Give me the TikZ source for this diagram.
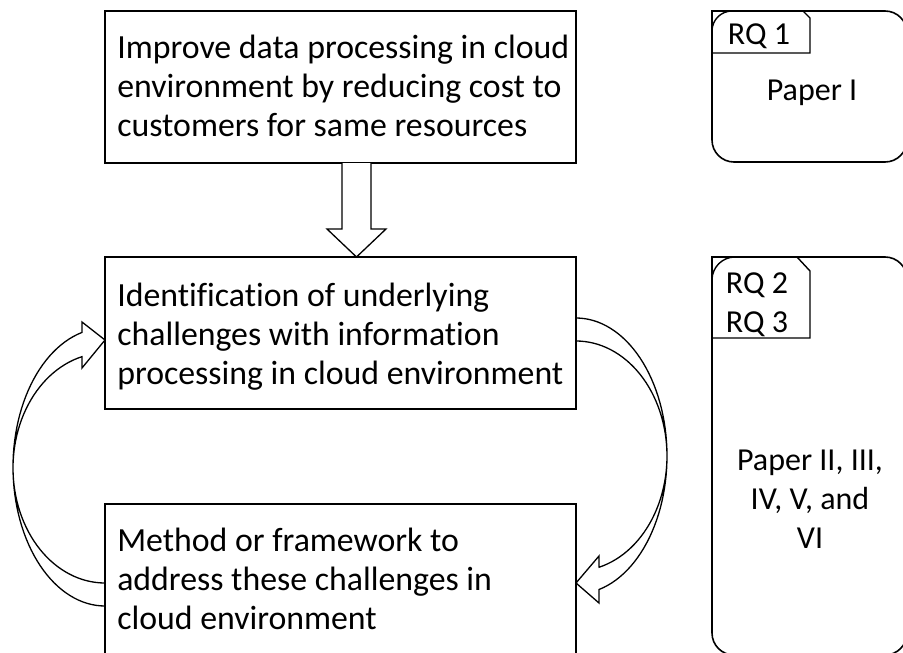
\documentclass[tikz,border=0pt]{standalone}
\usepackage{fontspec}
\setmainfont{Carlito}[Ligatures=NoCommon]
\usetikzlibrary{calc}
\begin{document}
\begin{tikzpicture}[x=1pt,y=-1pt,
  stage/.style={draw, line width=1.8pt, minimum width=471pt, minimum height=152pt, inner sep=0pt},
  stagetext/.style={anchor=north west, align=left, inner sep=0pt, font=\fontsize{33.8}{39}\selectfont},
  blockarrow/.style={draw, fill=white, line width=1.3pt, line join=miter},
  paperframe/.style={draw, line width=1.6pt, rounded corners=22pt, line cap=rect},
  rqtab/.style={draw, line width=1.4pt, line join=miter},
  papertext/.style={inner sep=0pt, align=center, font=\fontsize{32}{39}\selectfont}
]
\useasboundingbox (0,0) rectangle (903,653);
\clip (0,0) rectangle (903,653);

% feedback loop: from the method back to the identification step
\draw[blockarrow] (105,606)
  -- plot[domain=90:255.5, samples=60, variable=\t] ({105+92*cos(\t)},{467+139*sin(\t)})
  -- (82,322) -- (105,340) -- (82,368) -- (82,357)
  -- plot[domain=255.5:90, samples=60, variable=\t] ({105+92*cos(\t)},{468+115*sin(\t)})
  -- cycle;

% forward loop: from the identification step down to the method
\draw[blockarrow] (576,318)
  -- plot[domain=270:435.3, samples=60, variable=\t] ({576+91*cos(\t)},{456+138*sin(\t)})
  -- (599,603) -- (576,583) -- (599,556) -- (599,567)
  -- plot[domain=435.3:270, samples=60, variable=\t] ({576+91*cos(\t)},{456+115*sin(\t)})
  -- cycle;

% stage boxes
\node[stage] (goal) at (340.5,87) {};
\node[stage] (ident) at (340.5,333) {};
\node[stage] (method) at (340.5,580) {};

\node[stagetext] (goaltxt) at ($(goal.north west)+(13,21)$)
  {\strut Improve data processing in cloud\\environment by reducing cost to\\customers for same resources\strut};
\node[stagetext] (identtxt) at ($(ident.north west)+(13,22.5)$)
  {\strut Identification of underlying\\challenges with information\\processing in cloud environment\strut};
\node[stagetext] (methodtxt) at ($(method.north west)+(13,21)$)
  {\strut Method or framework to\\address these challenges in\\cloud environment\strut};

% hollow arrow between the first two stages
\draw[blockarrow] (342,163) -- (342,229) -- (327,229) -- (356.5,257)
  -- (386,229) -- (371,229) -- (371,163);

% paper frames with their research-question tabs
\draw[paperframe] (712,11) -- (907,11) -- (907,162) -- (712,162) -- (712,11);
\draw[rqtab] (712,53) -- (712,31) .. controls (712,20) and (721,11) .. (732,11)
  -- (803,11) -- (810,18) -- (810,53) -- cycle;

\draw[paperframe] (712,257) -- (907,257) -- (907,655) -- (712,655) -- (712,257);
\draw[rqtab] (712,338) -- (712,280) .. controls (712,267.3) and (722.3,257) .. (735,257)
  -- (797,257) -- (810,271) -- (810,338) -- cycle;

\node[papertext, anchor=base] (rqa) at (759,45) {RQ 1};
\node[papertext, anchor=base] (papera) at (812,100) {Paper I};
\node[papertext, anchor=north] (rqb) at (757,265.7) {\strut RQ 2\\RQ 3};
\node[papertext, anchor=north] (paperb) at (810,442.7) {\strut Paper II, III,\\IV, V, and\\VI};
\end{tikzpicture}
\end{document}
